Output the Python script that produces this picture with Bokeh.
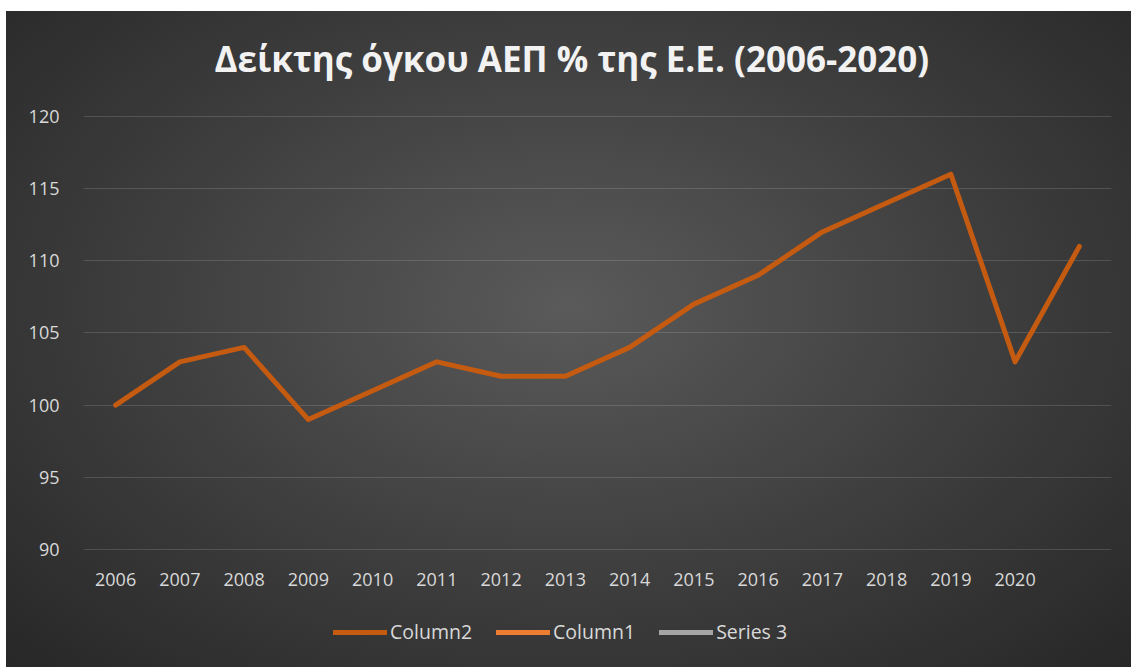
from bokeh.plotting import figure
from bokeh.models import Legend, LegendItem, FactorRange, Range1d, FixedTicker, Label
from bokeh.embed import file_html
from bokeh.resources import INLINE

title_text = "Δείκτης όγκου ΑΕΠ % της Ε.Ε. (2006-2020)"
categories = ["2006", "2007", "2008", "2009", "2010", "2011", "2012", "2013",
              "2014", "2015", "2016", "2017", "2018", "2019", "2020", " "]
column2 = [100, 103, 104, 99, 101, 103, 102, 102, 104, 107, 109, 112, 114, 116, 103, 111]
column1 = [float("nan")] * 16
series3 = [float("nan")] * 16
y_ticks = [90, 95, 100, 105, 110, 115, 120]

TXT = "#d9d9d9"
FONT = "Open Sans"

# frame covers the full height; the value axis occupies 90..120 of it
p = figure(width=1125, height=656, output_backend="svg", toolbar_location=None,
           x_range=FactorRange(factors=categories, range_padding=0),
           y_range=Range1d(81.82, 127.275),
           min_border_left=77, min_border_right=20, min_border_top=0, min_border_bottom=0)

p.styles = {"background": "radial-gradient(ellipse at 50% 45%, #5a5a5a 0%, #3d3d3d 55%, #272727 100%)",
            "margin-left": "6px", "margin-top": "11px"}
p.background_fill_alpha = 0
p.border_fill_alpha = 0
p.outline_line_color = None

title = Label(x=7.6, y=124.0, text=title_text, text_align="center", text_baseline="alphabetic",
              text_font=FONT, text_font_size="35px", text_font_style="bold", text_color="#f2f2f2")
p.add_layout(title)

r2 = p.line(x=categories, y=column2, line_color="#c55a11", line_width=5,
            line_join="round", line_cap="round")
r1 = p.line(x=categories, y=column1, line_color="#ed7d31", line_width=5, line_cap="round")
r3 = p.line(x=categories, y=series3, line_color="#a5a5a5", line_width=5, line_cap="round")

p.xgrid.grid_line_color = None
p.ygrid.ticker = FixedTicker(ticks=y_ticks)
p.ygrid.grid_line_color = "#ffffff"
p.ygrid.grid_line_alpha = 0.14
p.ygrid.grid_line_width = 1

p.yaxis.ticker = FixedTicker(ticks=y_ticks)
p.xaxis.fixed_location = 90
for ax in (p.xaxis[0], p.yaxis[0]):
    ax.axis_line_color = None
    ax.major_tick_line_color = None
    ax.minor_tick_line_color = None
    ax.major_tick_out = 0
    ax.major_tick_in = 0
    ax.major_label_text_font = FONT
    ax.major_label_text_font_size = "18px"
    ax.major_label_text_color = TXT
p.xaxis.major_label_standoff = 18
p.yaxis.major_label_standoff = 24

legend = Legend(items=[LegendItem(label="Column2", renderers=[r2]),
                       LegendItem(label="Column1", renderers=[r1]),
                       LegendItem(label="Series 3", renderers=[r3])],
                orientation="horizontal", location=(250, 22))
legend.background_fill_alpha = 0
legend.border_line_color = None
legend.padding = 0
legend.margin = 0
legend.label_text_color = TXT
legend.label_text_font = FONT
legend.label_text_font_size = "19.5px"
legend.glyph_width = 54
legend.glyph_height = 20
legend.label_standoff = 3
legend.spacing = 24
p.add_layout(legend, "center")

open("out.html", "w").write(file_html(p, INLINE))
